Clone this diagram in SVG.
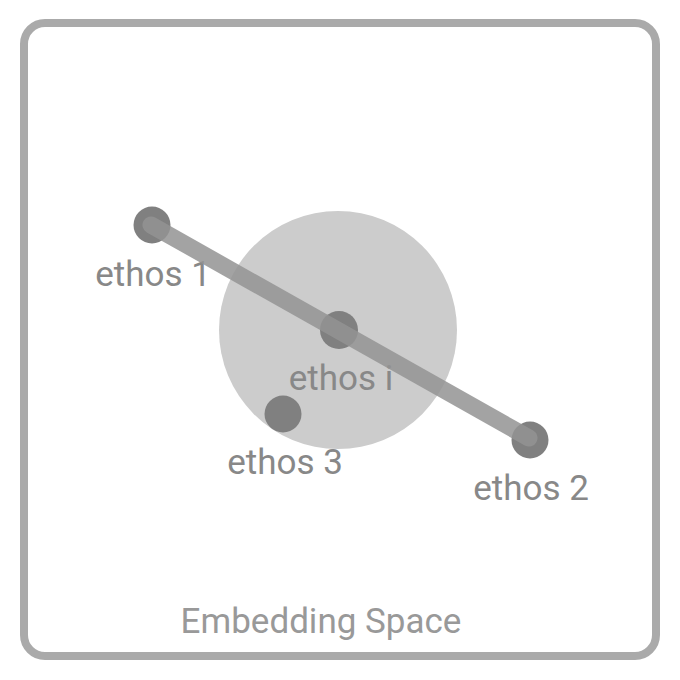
<svg xmlns="http://www.w3.org/2000/svg" width="680" height="680" viewBox="0 0 680 680">
<style>
.lbl{font-family:Roboto,"Liberation Sans",sans-serif;font-size:35px;fill:#888888;text-anchor:middle}
.dot{fill:#808080}
</style>
<rect width="680" height="680" fill="#ffffff"/>
<rect id="frame" x="24" y="23" width="632" height="633" rx="21" fill="#ffffff" stroke="#aaaaaa" stroke-width="8"/>
<g id="region"><circle cx="338" cy="330" r="119" fill="#cccccc"/></g>
<g id="ethos1"><circle class="dot" cx="152" cy="225" r="18.5"/><text class="lbl" x="153" y="286">ethos 1</text></g>
<g id="ethos-i"><circle class="dot" cx="339" cy="330" r="19"/><text class="lbl" x="341" y="390">ethos i</text></g>
<g id="ethos3"><circle class="dot" cx="283" cy="414" r="18.5"/><text class="lbl" x="285" y="474">ethos 3</text></g>
<g id="ethos2"><circle class="dot" cx="530" cy="440" r="18.5"/><text class="lbl" x="531" y="500">ethos 2</text></g>
<g id="connectors"><line x1="151" y1="225" x2="529" y2="438" stroke="#939393" stroke-opacity="0.85" stroke-width="17" stroke-linecap="round"/></g>
<text id="title" x="321" y="633" font-family="Roboto,'Liberation Sans',sans-serif" font-size="35" fill="#999999" text-anchor="middle">Embedding Space</text>
</svg>
